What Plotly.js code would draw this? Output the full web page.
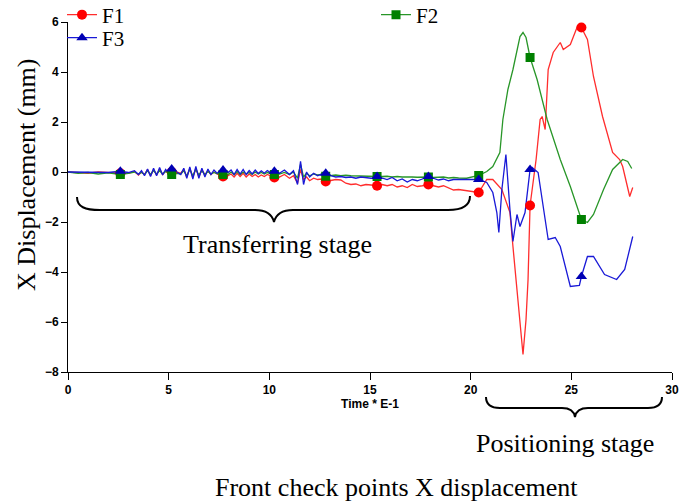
<!DOCTYPE html>
<html>
<head>
<meta charset="utf-8">
<script src="https://cdn.plot.ly/plotly-3.0.1.min.js"></script>
<style>html,body{margin:0;padding:0;background:#fff;}#chart{width:700px;height:504px;}</style>
</head>
<body>
<div id="chart"></div>
<script>
// ---- data (time in units of 0.1 s, displacement in mm) ----
const seriesNames = ["F1", "F2", "F3"];

const transferTime = [
  0, 0.5, 1.0, 1.5, 2.0, 2.6,
  3.0, 3.3, 3.5, 3.65, 3.8, 3.95, 4.1, 4.25, 4.4, 4.55, 4.7, 4.85, 5.0, 5.15,
  5.4, 5.6, 5.75, 5.9, 6.05, 6.2, 6.35, 6.5, 6.65, 6.8, 6.95, 7.1, 7.25, 7.4, 7.7,
  7.95, 8.1, 8.25, 8.4, 8.55, 8.7, 8.85, 9.0, 9.15, 9.3, 9.45, 9.6, 9.75, 9.9, 10.05, 10.25,
  10.5, 10.75, 11.0, 11.2, 11.4, 11.55, 11.7, 11.85, 12.0, 12.2, 12.4, 12.6, 12.8,
  13.05, 13.3, 13.55, 13.8, 14.05, 14.3, 14.55, 14.8, 15.05, 15.35,
  15.6, 15.85, 16.1, 16.35, 16.6, 16.85, 17.1, 17.35, 17.6, 17.9,
  18.15, 18.4, 18.65, 18.9, 19.15, 19.4
];

const f1Transfer = [
  0, -0.02, -0.05, 0, -0.03, -0.05,
  -0.05, 0.02, -0.12, 0.0, -0.1, 0.1, -0.15, 0.1, -0.12, 0.12, -0.1, 0.05, -0.08, 0.0,
  0.0, -0.05, 0.1, -0.2, 0.15, -0.22, 0.15, -0.2, 0.1, -0.12, 0.05, -0.1, 0.0, -0.08, -0.18,
  -0.15, -0.08, -0.2, -0.05, -0.18, -0.05, -0.2, -0.08, -0.18, -0.1, -0.2, -0.12, -0.18, -0.1, -0.15, -0.22,
  -0.2, -0.1, -0.25, -0.15, -0.45, 0.1, -0.3, -0.2, -0.35, -0.25, -0.3, -0.28, -0.38,
  -0.35, -0.3, -0.32, -0.45, -0.5, -0.48, -0.55, -0.5, -0.52, -0.55,
  -0.5, -0.55, -0.5, -0.6, -0.55, -0.62, -0.5, -0.58, -0.55, -0.5,
  -0.55, -0.6, -0.55, -0.65, -0.72, -0.7
];

const f2Transfer = [
  0, -0.05, -0.02, -0.08, -0.03, -0.1,
  -0.05, 0.0, -0.08, -0.02, -0.1, 0.05, -0.1, 0.06, -0.08, 0.05, -0.08, 0.02, -0.05, -0.1,
  -0.05, -0.08, 0.05, -0.15, 0.1, -0.15, 0.1, -0.12, 0.05, -0.1, 0.02, -0.08, -0.02, -0.06, -0.1,
  -0.1, 0.0, -0.1, 0.02, -0.1, 0.0, -0.08, -0.02, -0.1, 0.0, -0.08, -0.02, -0.08, -0.02, -0.06, -0.1,
  -0.08, -0.02, -0.1, 0.0, -0.25, 0.3, -0.2, -0.05, -0.15, -0.08, -0.12, -0.1, -0.17,
  -0.15, -0.12, -0.15, -0.13, -0.15, -0.16, -0.15, -0.17, -0.16, -0.18,
  -0.18, -0.17, -0.2, -0.18, -0.2, -0.19, -0.2, -0.21, -0.2, -0.2,
  -0.22, -0.22, -0.2, -0.24, -0.22, -0.24
];

const f3Transfer = [
  0, 0, -0.02, -0.02, -0.02, 0.03,
  -0.02, 0.05, -0.1, 0.05, -0.15, 0.12, -0.18, 0.15, -0.15, 0.18, -0.12, 0.1, -0.05, 0.12,
  0.0, -0.1, 0.15, -0.25, 0.2, -0.28, 0.22, -0.25, 0.15, -0.2, 0.12, -0.1, 0.08, -0.05, 0.08,
  -0.02, 0.08, -0.1, 0.1, -0.08, 0.1, -0.1, 0.06, -0.08, 0.08, -0.06, 0.05, -0.05, 0.06, -0.02, 0.03,
  -0.05, 0.08, -0.1, 0.05, -0.5, 0.43, -0.5, 0.0, -0.2, -0.05, -0.15, -0.08, -0.05,
  -0.15, -0.2, -0.18, -0.22, -0.2, -0.25, -0.2, -0.22, -0.25, -0.18,
  -0.25, -0.3, -0.22, -0.35, -0.28, -0.4, -0.3, -0.35, -0.28, -0.18,
  -0.25, -0.32, -0.28, -0.35, -0.3, -0.3
];

const f1PosTime = [19.8, 20.4, 20.8, 21.1, 21.55, 21.95, 22.1, 22.3, 22.45, 22.6,
  22.75, 22.85, 22.95, 23.25, 23.45, 23.55, 23.7, 23.85, 24.1, 24.45,
  24.6, 24.95, 25.3, 25.5, 25.8, 26.1, 26.55, 27.05, 27.4, 27.55, 27.9, 28.05];
const f1PosDisp = [-0.75, -0.82, -0.3, -0.3, -0.7, -1.62, -2.98, -4.7, -6.3, -7.3,
  -5.9, -4.3, -1.34, 0.5, 2.1, 2.22, 1.7, 4.1, 4.78, 5.18,
  4.9, 5.1, 5.82, 5.78, 5.3, 3.82, 2.22, 0.78, 0.5, 0.22, -0.98, -0.62];

const f2PosTime = [19.8, 20.4, 20.8, 21.1, 21.45, 21.6, 21.85, 22.1, 22.45, 22.6,
  22.75, 22.95, 23.3, 23.8, 24.45, 24.95, 25.5, 25.8, 26.1, 26.6,
  27.05, 27.55, 27.8, 28.0];
const f2PosDisp = [-0.25, -0.14, 0.02, 0.22, 0.78, 2.1, 3.3, 4.1, 5.42, 5.58,
  5.38, 4.58, 3.7, 2.1, 0.5, -0.58, -1.9, -2.02, -1.7, -0.7,
  0.1, 0.5, 0.42, 0.14];

const f3PosTime = [19.8, 20.4, 20.8, 21.1, 21.3, 21.4, 21.55, 21.75, 21.95, 22.1,
  22.3, 22.45, 22.7, 22.95, 23.05, 23.35, 23.7, 23.85, 24.2, 24.45,
  24.95, 25.4, 25.5, 25.8, 26.1, 26.65, 27.25, 27.65, 28.05];
const f3PosDisp = [-0.3, -0.3, -0.42, -0.82, -1.62, -2.42, -0.7, 0.7, -1.5, -2.78,
  -1.7, -2.18, -1.62, 0.1, 0.18, -0.02, -1.9, -2.7, -2.62, -2.98,
  -4.58, -4.54, -4.18, -3.38, -3.38, -4.1, -4.3, -3.9, -2.58];

const markerTime = [2.6, 5.15, 7.7, 10.25, 12.8, 15.35, 17.9, 20.4, 22.95, 25.5];

const xTickVals = [0, 5, 10, 15, 20, 25, 30];
const yTickVals = [-8, -6, -4, -2, 0, 2, 4, 6];

// ---- build ----
function valueAt(xs, ys, t) {
  for (let i = 0; i < xs.length - 1; i++) {
    if (t >= xs[i] && t <= xs[i + 1]) {
      const f = (t - xs[i]) / (xs[i + 1] - xs[i]);
      return ys[i] + f * (ys[i + 1] - ys[i]);
    }
  }
  return null;
}

const series = [
  {name: "F1", x: transferTime.concat(f1PosTime), y: f1Transfer.concat(f1PosDisp),
   line: "rgb(255,45,45)", mcol: "#ff0000", sym: "circle", msize: 10, legend: "legend"},
  {name: "F2", x: transferTime.concat(f2PosTime), y: f2Transfer.concat(f2PosDisp),
   line: "rgb(40,150,40)", mcol: "#008000", sym: "square", msize: 9, legend: "legend2"},
  {name: "F3", x: transferTime.concat(f3PosTime), y: f3Transfer.concat(f3PosDisp),
   line: "rgb(25,25,215)", mcol: "#0000b4", sym: "triangle-up", msize: 10, legend: "legend3"}
];

const traces = [];
series.forEach(s => {
  traces.push({x: s.x, y: s.y, type: "scatter", mode: "lines", showlegend: false,
    line: {color: s.line, width: 1.3}, hoverinfo: "skip"});
});
series.forEach(s => {
  traces.push({x: markerTime, y: markerTime.map(t => valueAt(s.x, s.y, t)), type: "scatter",
    mode: "markers", showlegend: false,
    marker: {color: s.mcol, symbol: s.sym, size: s.msize}});
});
series.forEach(s => {
  traces.push({x: [null], y: [null], type: "scatter", mode: "lines+markers", name: s.name,
    legend: s.legend, line: {color: s.line, width: 1.3},
    marker: {color: s.mcol, symbol: s.sym, size: s.msize}});
});

// pixel helpers for decorations
const L = 68, R = 672, T = 22, B = 372;
const px = v => ((v - L) / (R - L));
const py = v => ((B - v) / (B - T));
function path(cmds) {
  return cmds.map(c => c[0] + " " + c.slice(1).map((v, i) => (i % 2 === 0 ? px(v) : py(v)).toFixed(5)).join(",")).join(" ");
}
const braceTransfer = path([
  ["M", 77, 197], ["C", 77, 207, 85, 210, 100, 210], ["L", 255, 210],
  ["C", 266, 210, 272, 214, 274, 222], ["C", 276, 214, 282, 210, 293, 210],
  ["L", 448, 210], ["C", 462, 210, 470, 206, 470, 196]
]);
const bracePosition = path([
  ["M", 486, 397], ["C", 486, 404, 491, 408, 500, 408], ["L", 562, 408],
  ["C", 570, 408, 574, 411, 575, 417], ["C", 576, 411, 580, 408, 588, 408],
  ["L", 648, 408], ["C", 657, 408, 662, 404, 662, 397]
]);

const serif = "Liberation Serif, Times New Roman, serif";
const sans = "Liberation Sans, Arial, sans-serif";
const legendStyle = (xp, yp) => ({x: px(xp), y: py(yp), xanchor: "left", yanchor: "middle",
  bgcolor: "rgba(0,0,0,0)", borderwidth: 0, font: {family: serif, size: 21, color: "#000"}, itemwidth: 30});

const layout = {
  width: 700, height: 504,
  margin: {l: L, r: 700 - R, t: T, b: 504 - B, pad: 0, autoexpand: false},
  paper_bgcolor: "#ffffff", plot_bgcolor: "#ffffff",
  showlegend: true,
  xaxis: {range: [0, 30], tickvals: xTickVals, ticks: "outside", ticklen: 7, tickcolor: "#000",
    showline: true, linecolor: "#000", linewidth: 1, showgrid: false, zeroline: false,
    tickfont: {family: sans, size: 12, color: "#000", weight: "bold"},
    title: {text: "Time * E-1", font: {family: sans, size: 12, color: "#000", weight: "bold"}, standoff: 2}},
  yaxis: {range: [-8, 6], tickvals: yTickVals, ticks: "outside", ticklen: 6, tickcolor: "#000",
    showline: true, linecolor: "#000", linewidth: 1, showgrid: false, zeroline: false,
    tickfont: {family: sans, size: 12, color: "#000", weight: "bold"}},
  legend: legendStyle(62, 15),
  legend3: legendStyle(62, 38),
  legend2: legendStyle(376, 15),
  shapes: [
    {type: "path", xref: "paper", yref: "paper", path: braceTransfer, line: {color: "#000", width: 2}},
    {type: "path", xref: "paper", yref: "paper", path: bracePosition, line: {color: "#000", width: 2}}
  ],
  annotations: [
    {text: "X Displacement (mm)", xref: "paper", yref: "paper", x: px(26), y: py(175),
     xanchor: "center", yanchor: "middle",
     textangle: -90, showarrow: false, font: {family: serif, size: 26, color: "#000"}},
    {text: "Transferring stage", xref: "paper", yref: "paper", x: px(277), y: py(244),
     xanchor: "center", yanchor: "middle", showarrow: false, font: {family: serif, size: 26, color: "#000"}},
    {text: "Positioning stage", xref: "paper", yref: "paper", x: px(565), y: py(443),
     xanchor: "center", yanchor: "middle", showarrow: false, font: {family: serif, size: 26, color: "#000"}},
    {text: "Front check points X displacement", xref: "paper", yref: "paper", x: px(397), y: py(487),
     xanchor: "center", yanchor: "middle", showarrow: false, font: {family: serif, size: 26, color: "#000"}}
  ]
};

Plotly.newPlot("chart", traces, layout, {displayModeBar: false, staticPlot: true});
</script>
</body>
</html>
